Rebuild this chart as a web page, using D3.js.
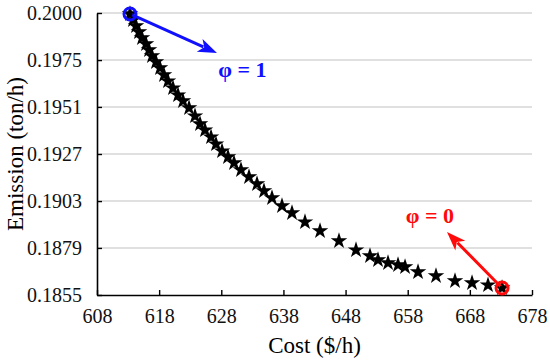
<!DOCTYPE html>
<html>
<head>
<meta charset="utf-8">
<script src="https://cdn.jsdelivr.net/npm/d3@7"></script>
<style>
  body { margin: 0; background: #fff; }
</style>
</head>
<body>
<div id="chart"></div>
<script>
/* DATA */
const cost = [
  613.31, 613.79, 614.28, 614.76, 615.24, 615.89, 616.37, 616.85, 617.49, 618.14,
  618.78, 619.43, 620.23, 621.04, 621.84, 622.81, 623.77, 624.58, 625.38, 626.35,
  627.15, 628.12, 629.08, 630.05, 631.17, 632.46, 633.75, 634.87, 636.16, 637.77,
  639.38, 641.47, 643.89, 646.94, 649.68, 651.93, 653.22, 654.83, 656.44, 657.57,
  659.66, 662.55, 665.61, 668.35, 670.92, 673.18
];
const emission = [
  0.19995, 0.19964, 0.19933, 0.19902, 0.19872, 0.19841, 0.19810, 0.19779, 0.19748, 0.19717,
  0.19681, 0.19650, 0.19614, 0.19578, 0.19548, 0.19512, 0.19470, 0.19429, 0.19398, 0.19362,
  0.19326, 0.19290, 0.19260, 0.19229, 0.19193, 0.19157, 0.19121, 0.19085, 0.19049, 0.19008,
  0.18972, 0.18925, 0.18879, 0.18828, 0.18781, 0.18751, 0.18730, 0.18715, 0.18704, 0.18694,
  0.18668, 0.18648, 0.18622, 0.18612, 0.18601, 0.18586
];
const xTicks = [608, 618, 628, 638, 648, 658, 668, 678];
const yTicks = [0.1855, 0.18792, 0.19033, 0.19275, 0.19517, 0.19758, 0.2000];
const yTickLabels = ["0.1855", "0.1879", "0.1903", "0.1927", "0.1951", "0.1975", "0.2000"];

// annotations: [from cost, from emission, to cost, to emission], label position, text
const arrowBlue = [613.31, 0.19995, 627.31, 0.19794];
const arrowRed = [673.18, 0.18586, 664.32, 0.18874];
const labelBlue = { c: 627.5, e: 0.19671, text: "φ = 1" };
const labelRed = { c: 657.7, e: 0.18920, text: "φ = 0" };

const serif = '"Liberation Serif", "Times New Roman", serif';

/* LAYOUT */
const width = 550, height = 360;
const margin = { top: 13, right: 18, bottom: 65, left: 97 };

const svg = d3.select("#chart").append("svg")
  .attr("width", width)
  .attr("height", height);

const xScale = d3.scaleLinear()
  .domain([608, 678])
  .range([margin.left, width - margin.right]);

const yScale = d3.scaleLinear()
  .domain([0.1855, 0.2000])
  .range([height - margin.bottom, margin.top]);

// gridlines
svg.append("g")
  .selectAll("line")
  .data(yTicks.slice(1))
  .join("line")
  .attr("x1", xScale(608))
  .attr("x2", xScale(678))
  .attr("y1", d => yScale(d))
  .attr("y2", d => yScale(d))
  .attr("stroke", "#d6d6d6")
  .attr("stroke-width", 1.5);

// axes with inward ticks
const xAxis = d3.axisBottom(xScale)
  .tickValues(xTicks)
  .tickSize(-5)
  .tickSizeOuter(0)
  .tickPadding(14);

const yAxis = d3.axisLeft(yScale)
  .tickValues(yTicks)
  .tickFormat((d, i) => yTickLabels[i])
  .tickSize(-5)
  .tickSizeOuter(0)
  .tickPadding(15);

const gx = svg.append("g")
  .attr("transform", `translate(0,${height - margin.bottom})`)
  .call(xAxis);

const gy = svg.append("g")
  .attr("transform", `translate(${margin.left},0)`)
  .call(yAxis);

[gx, gy].forEach(g => {
  g.select(".domain").attr("stroke", "#000").attr("stroke-width", 1.6);
  g.selectAll(".tick line").attr("stroke", "#000").attr("stroke-width", 1.4);
  g.selectAll(".tick text")
    .style("font-family", serif)
    .style("font-size", "20px")
    .attr("fill", "#111");
});

// axis titles
svg.append("text")
  .attr("x", (xScale(608) + xScale(678)) / 2)
  .attr("y", 353)
  .attr("text-anchor", "middle")
  .style("font-family", serif)
  .style("font-size", "23px")
  .text("Cost ($/h)");

svg.append("text")
  .attr("transform", `translate(23,${(yScale(0.1855) + yScale(0.2)) / 2}) rotate(-90)`)
  .attr("text-anchor", "middle")
  .style("font-family", serif)
  .style("font-size", "23px")
  .text("Emission (ton/h)");

// stars
const pts = cost.map((c, i) => ({ c, e: emission[i] }));
svg.append("g")
  .selectAll("path")
  .data(pts)
  .join("path")
  .attr("d", d3.symbol(d3.symbolStar, 85))
  .attr("transform", d => `translate(${xScale(d.c)},${yScale(d.e)})`)
  .attr("fill", "#000");

// arrows
function drawArrow(a, color) {
  const x1 = xScale(a[0]), y1 = yScale(a[1]);
  const x2 = xScale(a[2]), y2 = yScale(a[3]);
  const ang = Math.atan2(y2 - y1, x2 - x1);
  const headLen = 19, headW = 7;
  const bx = x2 - headLen * Math.cos(ang), by = y2 - headLen * Math.sin(ang);
  svg.append("line")
    .attr("x1", x1).attr("y1", y1)
    .attr("x2", bx + 4 * Math.cos(ang)).attr("y2", by + 4 * Math.sin(ang))
    .attr("stroke", color)
    .attr("stroke-width", 3);
  const px = -Math.sin(ang), py = Math.cos(ang);
  svg.append("path")
    .attr("d", `M${x2},${y2} L${bx + headW * px},${by + headW * py} L${bx + 5 * Math.cos(ang)},${by + 5 * Math.sin(ang)} L${bx - headW * px},${by - headW * py} Z`)
    .attr("fill", color);
  svg.append("circle")
    .attr("cx", x1).attr("cy", y1)
    .attr("r", 6)
    .attr("fill", "none")
    .attr("stroke", color)
    .attr("stroke-width", 3);
  svg.append("circle")
    .attr("cx", x1).attr("cy", y1)
    .attr("r", 2.5)
    .attr("fill", "#000");
}
drawArrow(arrowBlue, "#1010ff");
drawArrow(arrowRed, "#ff0a0a");

// labels
[[labelBlue, "#1010ff"], [labelRed, "#ff0a0a"]].forEach(([l, color]) => {
  svg.append("text")
    .attr("x", xScale(l.c))
    .attr("y", yScale(l.e))
    .style("font-family", serif)
    .style("font-size", "22px")
    .style("font-weight", "bold")
    .attr("fill", color)
    .text(l.text);
});
</script>
</body>
</html>
